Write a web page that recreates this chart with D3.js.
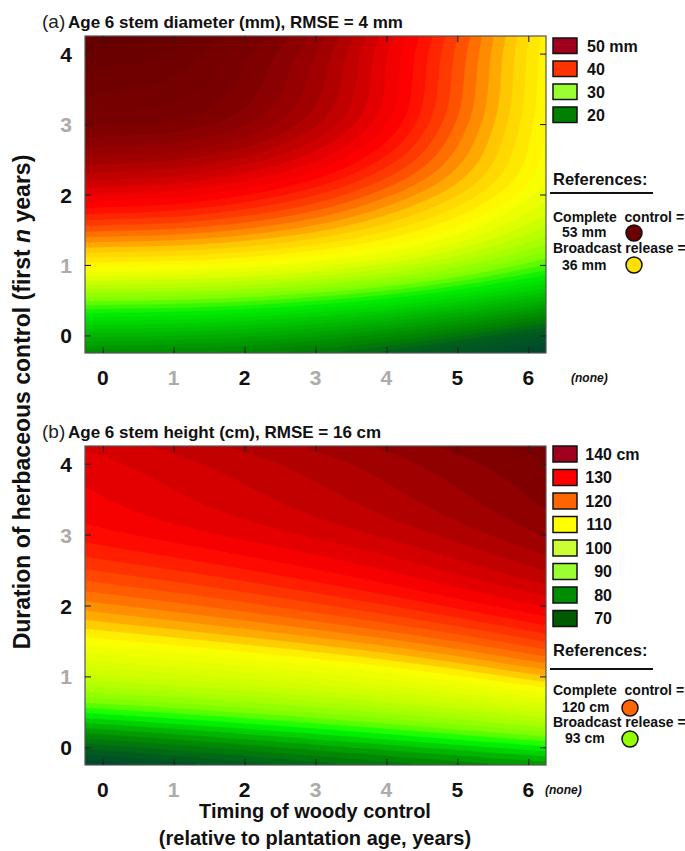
<!DOCTYPE html>
<html><head><meta charset="utf-8">
<script src="https://cdn.jsdelivr.net/npm/d3@7"></script>
<style>
body{margin:0;background:#fff}
svg{display:block}
text{font-family:Arial,"Liberation Sans",Helvetica,sans-serif;white-space:pre}
</style>
</head><body>
<svg id="chart" width="685" height="851"></svg>
<script>
// ---------- data ----------
const xTicks = [0, 1, 2, 3, 4, 5, 6];
const yTicks = [0, 1, 2, 3, 4];
const grayXTicks = [1, 3, 4];
const grayYTicks = [1, 3];

// (a) stem diameter (mm); rows = herbaceous control duration 0..4, columns = woody control timing 0..6
const diamRow0 = [22.0, 21.8, 21.3, 20.4, 19.1, 17.4, 15.4];
const diamRow1 = [34.8, 34.6, 34.1, 33.2, 32.0, 30.3, 28.2];
const diamRow2 = [44.2, 43.8, 42.8, 41.3, 39.2, 36.8, 34.0];
const diamRow3 = [50.3, 50.0, 48.8, 46.6, 43.5, 39.6, 35.5];
const diamRow4 = [53.0, 52.4, 50.5, 48.0, 44.3, 40.3, 35.9];

// (b) stem height (cm)
const htRow0 = [73.0, 75.0, 77.0, 79.0, 81.0, 83.0, 85.0];
const htRow1 = [99.5, 101.0, 102.7, 104.6, 106.9, 109.7, 113.0];
const htRow2 = [117.5, 119.3, 121.3, 123.5, 125.9, 128.6, 131.5];
const htRow3 = [129.3, 130.9, 132.6, 134.4, 136.4, 138.8, 141.5];
const htRow4 = [133.5, 135.3, 137.1, 139.0, 141.1, 143.3, 145.5];

const diamLegendValues = [50, 40, 30, 20];
const diamLegendLabels = ["50 mm", "40", "30", "20"];
const htLegendValues = [140, 130, 120, 110, 100, 90, 80, 70];
const htLegendLabels = ["140", "130", "120", "110", "100", "90", "80", "70"];

const diamRefs = [53, 36];
const diamRefLabels = ["53 mm", "36 mm"];
const htRefs = [120, 93];
const htRefLabels = ["120 cm", "93 cm"];

// ---------- styles ----------
const diamStops = [[12,"#004530"],[16,"#005e1c"],[18.5,"#008600"],[22,"#00b400"],[26.2,"#00f000"],[28.8,"#80ff00"],[32.6,"#ddff00"],[34.5,"#ffff00"],[37,"#ffcc00"],[38.7,"#ff8800"],[40.5,"#ff4400"],[43,"#ff0000"],[44.2,"#ee0000"],[45.6,"#cc0000"],[47.7,"#a00000"],[50.3,"#7a0000"],[52.1,"#700000"],[53.5,"#660000"]];
const htStops = [[66,"#004530"],[70,"#005522"],[74,"#007010"],[78,"#009000"],[82,"#00c000"],[86,"#00ff00"],[90,"#77ff00"],[95,"#a8ff00"],[100,"#ccff00"],[105,"#e6ff00"],[110,"#ffff00"],[115,"#ffaa00"],[120,"#ff6600"],[125,"#ff3300"],[130,"#ff0000"],[135,"#d40000"],[140,"#a80000"],[146,"#780000"]];
const diamLegendColors = ["#a0001e", "#ff3300", "#99ff33", "#008000"];
const htLegendColors = ["#a0001e", "#ff0000", "#ff6600", "#ffff00", "#ccff33", "#99ff33", "#008c00", "#005a00"];

const svg = d3.select("#chart");

function catmull(p0, p1, p2, p3, t) {
  return 0.5 * (2 * p1 + (-p0 + p2) * t + (2 * p0 - 5 * p1 + 4 * p2 - p3) * t * t + (-p0 + 3 * p1 - 3 * p2 + p3) * t * t * t);
}
function makeSurface(grid) {
  const ny = grid.length, nx = grid[0].length;
  const g = (j, i) => {
    if (i < 0) return 2 * g(j, 0) - g(j, 1);
    if (i > nx - 1) return 2 * g(j, nx - 1) - g(j, nx - 2);
    if (j < 0) return 2 * g(0, i) - g(1, i);
    if (j > ny - 1) return 2 * g(ny - 1, i) - g(ny - 2, i);
    return grid[j][i];
  };
  return (x, y) => {
    const i = Math.max(0, Math.min(nx - 2, Math.floor(x)));
    const j = Math.max(0, Math.min(ny - 2, Math.floor(y)));
    const tx = x - i, ty = y - j;
    const r = [-1, 0, 1, 2].map(d => catmull(g(j + d, i - 1), g(j + d, i), g(j + d, i + 1), g(j + d, i + 2), tx));
    return catmull(r[0], r[1], r[2], r[3], ty);
  };
}

function panel(cfg) {
  const x = d3.scaleLinear().domain([-0.25, 6.25]).range([85, 546]);
  const y = d3.scaleLinear().domain([-0.25, 4.25]).range([cfg.bottom, cfg.top]);
  const color = d3.scaleLinear().domain(cfg.stops.map(d => d[0])).range(cfg.stops.map(d => d[1])).clamp(true);
  const g = svg.append("g");
  const clipId = "clip" + cfg.id;
  svg.append("clipPath").attr("id", clipId).append("rect")
    .attr("x", x.range()[0]).attr("y", y.range()[1])
    .attr("width", x.range()[1] - x.range()[0]).attr("height", y.range()[0] - y.range()[1]);

  // surface
  const f = makeSurface(cfg.grid);
  const n = 130, m = 90, d = 0.05;
  const vals = new Array(n * m);
  for (let r = 0; r < m; r++) for (let c = 0; c < n; c++) {
    vals[r * n + c] = f(-0.25 + (c + 0.5) * d, -0.25 + (r + 0.5) * d);
  }
  const thresholds = d3.range(cfg.tMin, cfg.tMax, cfg.step);
  const contours = d3.contours().size([n, m]).thresholds(thresholds)(vals);
  const proj = d3.geoTransform({ point: function (u, v) { this.stream.point(x(-0.25 + u * d), y(-0.25 + v * d)); } });
  const path = d3.geoPath(proj);
  g.append("g").attr("clip-path", `url(#${clipId})`)
    .selectAll("path").data(contours).join("path")
    .attr("d", path)
    .attr("fill", c => color(c.value + cfg.step / 2))
    .attr("stroke", c => color(c.value + cfg.step / 2))
    .attr("stroke-width", 0.4);

  // frame
  g.append("rect").attr("x", x.range()[0]).attr("y", y.range()[1])
    .attr("width", x.range()[1] - x.range()[0]).attr("height", y.range()[0] - y.range()[1])
    .attr("fill", "none").attr("stroke", "#555").attr("stroke-width", 1.2);

  // ticks (inside, all four sides)
  const tickStyle = s => { s.select(".domain").remove(); s.selectAll("line").attr("stroke", "#222").attr("stroke-width", 1.1); };
  g.append("g").attr("transform", `translate(0,${y.range()[0]})`).call(d3.axisBottom(x).tickValues(xTicks).tickSize(-6).tickSizeOuter(0).tickFormat("")).call(tickStyle);
  g.append("g").attr("transform", `translate(0,${y.range()[1]})`).call(d3.axisTop(x).tickValues(xTicks).tickSize(-6).tickSizeOuter(0).tickFormat("")).call(tickStyle);
  g.append("g").attr("transform", `translate(${x.range()[0]},0)`).call(d3.axisLeft(y).tickValues(yTicks).tickSize(-6).tickSizeOuter(0).tickFormat("")).call(tickStyle);
  g.append("g").attr("transform", `translate(${x.range()[1]},0)`).call(d3.axisRight(y).tickValues(yTicks).tickSize(-6).tickSizeOuter(0).tickFormat("")).call(tickStyle);

  // tick labels
  g.selectAll(".xl").data(xTicks).join("text")
    .attr("x", v => x(v)).attr("y", y.range()[0] + 32)
    .attr("text-anchor", "middle").attr("font-size", 21).attr("font-weight", "bold")
    .attr("fill", v => grayXTicks.includes(v) ? "#ababab" : "#111").text(v => v);
  g.selectAll(".yl").data(yTicks).join("text")
    .attr("x", 72).attr("y", v => y(v) + 8)
    .attr("text-anchor", "end").attr("font-size", 21).attr("font-weight", "bold")
    .attr("fill", v => grayYTicks.includes(v) ? "#ababab" : "#111").text(v => v);
  g.append("text").attr("x", cfg.noneX).attr("y", y.range()[0] + 29)
    .attr("font-size", 12).attr("font-weight", "bold").attr("font-style", "italic").attr("fill", "#111").text("(none)");

  // title
  g.append("text").attr("x", 42).attr("y", cfg.titleY).attr("font-size", 19).attr("fill", "#222").text(cfg.tag);
  g.append("text").attr("x", 68).attr("y", cfg.titleY).attr("font-size", 17).attr("font-weight", "bold").attr("fill", "#111").text(cfg.title);

  // legend
  const lg = g.append("g");
  cfg.legendValues.forEach((v, i) => {
    const top = cfg.legTop + i * cfg.legStep;
    lg.append("rect").attr("x", 553).attr("y", top).attr("width", 24).attr("height", cfg.legH)
      .attr("fill", cfg.legendColors[i]).attr("stroke", "#111").attr("stroke-width", 1.5);
    lg.append("text").attr("x", cfg.legAnchorEnd ? 612 : 587).attr("y", top + 13.5)
      .attr("text-anchor", cfg.legAnchorEnd ? "end" : "start")
      .attr("font-size", 16).attr("font-weight", "bold").attr("fill", "#111").text(cfg.legendLabels[i]);
    if (cfg.legAnchorEnd && i === 0) {
      lg.append("text").attr("x", 612).attr("y", top + 13.5).attr("font-size", 16).attr("font-weight", "bold").attr("fill", "#111").text(" cm");
    }
  });

  // references
  const R = cfg.ref;
  g.append("text").attr("x", 553).attr("y", R.head).attr("font-size", 16.5).attr("font-weight", "bold").attr("fill", "#111").text("References:");
  g.append("line").attr("x1", 550).attr("x2", 653).attr("y1", R.rule).attr("y2", R.rule).attr("stroke", "#111").attr("stroke-width", 2);
  g.append("text").attr("x", 553).attr("y", R.l1).attr("font-size", 14).attr("font-weight", "bold").attr("fill", "#111").text("Complete  control =");
  g.append("text").attr("x", R.v1x).attr("y", R.v1).attr("font-size", 14).attr("font-weight", "bold").attr("fill", "#111").text(cfg.refLabels[0]);
  g.append("text").attr("x", 553).attr("y", R.l2).attr("font-size", 14).attr("font-weight", "bold").attr("fill", "#111").text("Broadcast release =");
  g.append("text").attr("x", R.v2x).attr("y", R.v2).attr("font-size", 14).attr("font-weight", "bold").attr("fill", "#111").text(cfg.refLabels[1]);
  g.selectAll(".ref").data(cfg.refs).join("circle")
    .attr("cx", R.cx).attr("cy", (v, i) => R.cy[i]).attr("r", 8)
    .attr("fill", v => color(v)).attr("stroke", "#111").attr("stroke-width", 1.5);
}

panel({
  id: "a", top: 36, bottom: 353, titleY: 28, tag: "(a)", title: "Age 6 stem diameter (mm), RMSE = 4 mm",
  grid: [diamRow0, diamRow1, diamRow2, diamRow3, diamRow4], stops: diamStops,
  tMin: 6, tMax: 60, step: 0.75, noneX: 571,
  legendValues: diamLegendValues, legendLabels: diamLegendLabels, legendColors: diamLegendColors,
  legTop: 38, legStep: 23, legH: 15.5, legAnchorEnd: false,
  refs: diamRefs, refLabels: diamRefLabels,
  ref: { head: 185, rule: 193, l1: 222, v1: 237, v1x: 562, l2: 253, v2: 270, v2x: 562, cx: 634, cy: [233, 265] }
});
panel({
  id: "b", top: 446, bottom: 765, titleY: 437.5, tag: "(b)", title: "Age 6 stem height (cm), RMSE = 16 cm",
  grid: [htRow0, htRow1, htRow2, htRow3, htRow4], stops: htStops,
  tMin: 56, tMax: 156, step: 2, noneX: 545,
  legendValues: htLegendValues, legendLabels: htLegendLabels, legendColors: htLegendColors,
  legTop: 446, legStep: 23.5, legH: 16, legAnchorEnd: true,
  refs: htRefs, refLabels: htRefLabels,
  ref: { head: 656, rule: 669, l1: 695, v1: 712, v1x: 562, l2: 727, v2: 743, v2x: 565, cx: 630, cy: [708, 739] }
});

// axis titles
const yt = svg.append("text").attr("transform", "translate(30,402) rotate(-90)")
  .attr("text-anchor", "middle").attr("font-size", 23).attr("font-weight", "bold").attr("fill", "#111");
yt.append("tspan").text("Duration of herbaceous control (first ");
yt.append("tspan").attr("font-style", "italic").text("n");
yt.append("tspan").text(" years)");
svg.append("text").attr("x", 315).attr("y", 818).attr("text-anchor", "middle").attr("font-size", 20).attr("font-weight", "bold").attr("fill", "#111").text("Timing of woody control");
svg.append("text").attr("x", 315).attr("y", 845).attr("text-anchor", "middle").attr("font-size", 20).attr("font-weight", "bold").attr("fill", "#111").text("(relative to plantation age, years)");
</script>
</body></html>
